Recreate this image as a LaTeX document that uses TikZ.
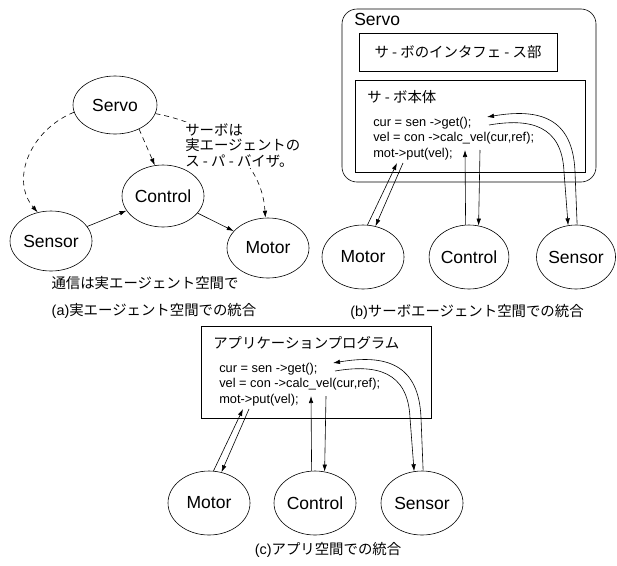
\documentclass[tikz,border=0pt]{standalone}
\usepackage{fontspec}
\setmainfont{Liberation Sans}
\newfontfamily\jp{Noto Sans CJK JP}
\usetikzlibrary{shapes,arrows.meta}

\begin{document}
\begin{tikzpicture}[x=1pt,y=-1pt,>={Latex[length=7pt,width=4.5pt]},line width=0.6pt,
    agent/.style={ellipse,draw,inner sep=0pt,minimum width=82pt,minimum height=64pt,font=\fontsize{17.5}{20}\selectfont},
    code/.style={align=left,inner sep=0pt,font=\fontsize{12.8}{15.3}\selectfont},
    jtext/.style={inner sep=1pt,font=\fontsize{14.4}{15.5}\selectfont\jp},
    caption/.style={inner sep=1pt,font=\fontsize{14.4}{16}\selectfont},
    superv/.style={dash pattern=on 5pt off 4pt}]
  \useasboundingbox (0,0) rectangle (617,565);

  % (a) real agent space
  \node[agent,minimum width=84pt,minimum height=58pt] at (115,105) (servoa) {Servo};
  \node[agent,minimum height=62pt] at (163,196) (controla) {Control};
  \node[agent,minimum height=60pt] at (51,241) (sensora) {Sensor};
  \node[agent,minimum height=60pt] at (268,248) (motora) {Motor};
  \draw[->,superv] (servoa.190) .. controls (30,130) and (10,180) .. (sensora.115);
  \draw[->,superv] (servoa.-45) -- (controla.105);
  \draw[->,superv] (servoa.-12) .. controls (215,125) and (262,160) .. (motora.95);
  \node[jtext,align=left,anchor=north west,fill=white] at (184,122) (notea)
    {サーボは\\実エージェントの\\ス - パ - バイザ。};
  \draw[->] (sensora) -- (controla);
  \draw[->] (controla) -- (motora);
  \node[jtext] at (145,283) (commenta) {通信は実エージェント空間で};
  \node[caption] at (154,311) (capa) {(a){\jp 実エージェント空間での統合}};

  % (b) servo agent space
  \draw[rounded corners=15pt] (342,9) rectangle (596,182);
  \node[anchor=west,inner sep=0pt,font=\fontsize{17.5}{20}\selectfont] at (354,19) (servob) {Servo};
  \draw (359,33) rectangle (557,71);
  \node[jtext] at (458,52) (ifb) {サ - ボのインタフェ - ス部};
  \draw (355,80) rectangle (585,172);
  \node[jtext,anchor=west] at (366,97) (bodyb) {サ - ボ本体};
  \node[code,anchor=north west] at (373,117) (codeb)
    {cur = sen ->get();\\vel = con ->calc\_vel(cur,ref);\\mot->put(vel);};
  \node[agent] at (363,257) (motorb) {Motor};
  \node[agent,minimum width=79pt] at (469,257) (controlb) {Control};
  \node[agent,minimum width=79pt] at (576,257) (sensorb) {Sensor};
  \coordinate (putinb) at (397,163);
  \coordinate (putoutb) at (403,163);
  \coordinate (calcinb) at (465,150);
  \coordinate (calcoutb) at (480,150);
  \coordinate (getinb) at (487,117);
  \coordinate (getoutb) at (489,125);
  \draw[->] (motorb.82) -- (putinb);
  \draw[->] (putoutb) -- (motorb.68);
  \draw[->] (controlb.96) -- (calcinb);
  \draw[->] (calcoutb) -- (controlb.73);
  \draw[->] (sensorb.88) -- (575,172) .. controls (573,118) and (540,108) .. (getinb);
  \draw[->] (getoutb) .. controls (530,118) and (562,125) .. (564,172) -- (sensorb.104);
  \node[caption] at (467,312) (capb) {(b){\jp サーボエージェント空間での統合}};

  % (c) application space
  \begin{scope}[shift={(-154,246)}]
    \draw (355,80) rectangle (585,172);
    \node[jtext,anchor=west] at (366,97) (titlec) {アプリケーションプログラム};
    \node[code,anchor=north west] at (373,117) (codec)
      {cur = sen ->get();\\vel = con ->calc\_vel(cur,ref);\\mot->put(vel);};
    \node[agent] at (363,257) (motorc) {Motor};
    \node[agent] at (469,257) (controlc) {Control};
    \node[agent] at (576,257) (sensorc) {Sensor};
    \coordinate (putinc) at (397,163);
    \coordinate (putoutc) at (403,163);
    \coordinate (calcinc) at (465,150);
    \coordinate (calcoutc) at (480,150);
    \coordinate (getinc) at (487,117);
    \coordinate (getoutc) at (489,125);
    \draw[->] (motorc.82) -- (putinc);
    \draw[->] (putoutc) -- (motorc.68);
    \draw[->] (controlc.96) -- (calcinc);
    \draw[->] (calcoutc) -- (controlc.73);
    \draw[->] (sensorc.88) -- (575,172) .. controls (573,118) and (540,108) .. (getinc);
    \draw[->] (getoutc) .. controls (530,118) and (562,125) .. (564,172) -- (sensorc.104);
  \end{scope}
  \node[caption] at (328,550) (capc) {(c){\jp アプリ空間での統合}};
\end{tikzpicture}
\end{document}
